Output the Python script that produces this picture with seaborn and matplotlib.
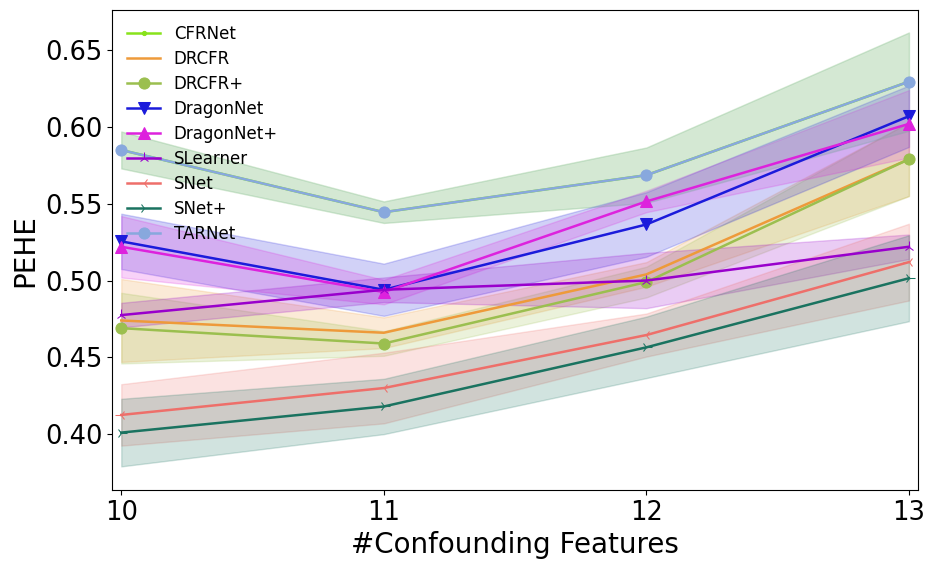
import pandas as pd
import seaborn as sns
import matplotlib
matplotlib.use("Agg")
import matplotlib.pyplot as plt

# number of confounding features on the x axis
features = [10, 11, 12, 13]

# mean PEHE per model
cfrnet = [0.585, 0.5445, 0.5686, 0.6295]
drcfr = [0.474, 0.466, 0.504, 0.579]
drcfr_plus = [0.469, 0.459, 0.499, 0.579]
dragonnet = [0.5255, 0.494, 0.5365, 0.607]
dragonnet_plus = [0.522, 0.4925, 0.5515, 0.602]
slearner = [0.4775, 0.494, 0.500, 0.522]
snet = [0.4125, 0.430, 0.4645, 0.512]
snet_plus = [0.401, 0.418, 0.4565, 0.5015]
tarnet = [0.585, 0.5445, 0.5686, 0.6295]

# spread (std) for the shaded bands
cfrnet_std = [0.012, 0.007, 0.018, 0.032]
drcfr_std = [0.027, 0.010, 0.008, 0.024]
drcfr_plus_std = [0.023, 0.008, 0.010, 0.024]
dragonnet_std = [0.018, 0.017, 0.021, 0.020]
dragonnet_plus_std = [0.020, 0.008, 0.007, 0.022]
slearner_std = [0.008, 0.008, 0.018, 0.008]
snet_std = [0.020, 0.023, 0.014, 0.025]
snet_plus_std = [0.022, 0.018, 0.020, 0.028]
tarnet_std = [0.012, 0.007, 0.018, 0.032]

models = ["CFRNet", "DRCFR", "DRCFR+", "DragonNet", "DragonNet+",
          "SLearner", "SNet", "SNet+", "TARNet"]
means = [cfrnet, drcfr, drcfr_plus, dragonnet, dragonnet_plus,
         slearner, snet, snet_plus, tarnet]
stds = [cfrnet_std, drcfr_std, drcfr_plus_std, dragonnet_std, dragonnet_plus_std,
        slearner_std, snet_std, snet_plus_std, tarnet_std]

colors = ["#88E31B", "#EE9A3A", "#9BBF4F", "#1B1BDB", "#DD22DD",
          "#9900CC", "#EE6F6A", "#1A7360", "#88A8DD"]
markers = [".", None, "o", "v", "^", "2", "3", "4", "o"]
sizes = [6, 0, 8, 8, 8, 8, 8, 8, 8]

fig, ax = plt.subplots(figsize=(9.34, 5.68), dpi=100)

for name, m, s, c, mk, ms in zip(models, means, stds, colors, markers, sizes):
    df = pd.DataFrame({"features": features, "pehe": m})
    sns.lineplot(data=df, x="features", y="pehe", ax=ax, color=c, marker=mk,
                 markersize=ms, markeredgecolor=c, linewidth=1.8, label=name)
    lo = [a - b for a, b in zip(m, s)]
    hi = [a + b for a, b in zip(m, s)]
    ax.fill_between(features, lo, hi, color=c, alpha=0.2)

ax.set_xlim(9.965, 13.035)
ax.set_ylim(0.3635, 0.676)
ax.set_xticks(features)
ax.set_yticks([0.40, 0.45, 0.50, 0.55, 0.60, 0.65])
ax.tick_params(labelsize=18.5)
ax.set_xlabel("#Confounding Features", fontsize=20)
ax.set_ylabel("PEHE", fontsize=20)
ax.legend(loc="upper left", frameon=False, fontsize=12, borderaxespad=0.5,
          labelspacing=0.42)

plt.subplots_adjust(left=0.12, right=0.983, top=0.982, bottom=0.137)
plt.savefig("out.png")
